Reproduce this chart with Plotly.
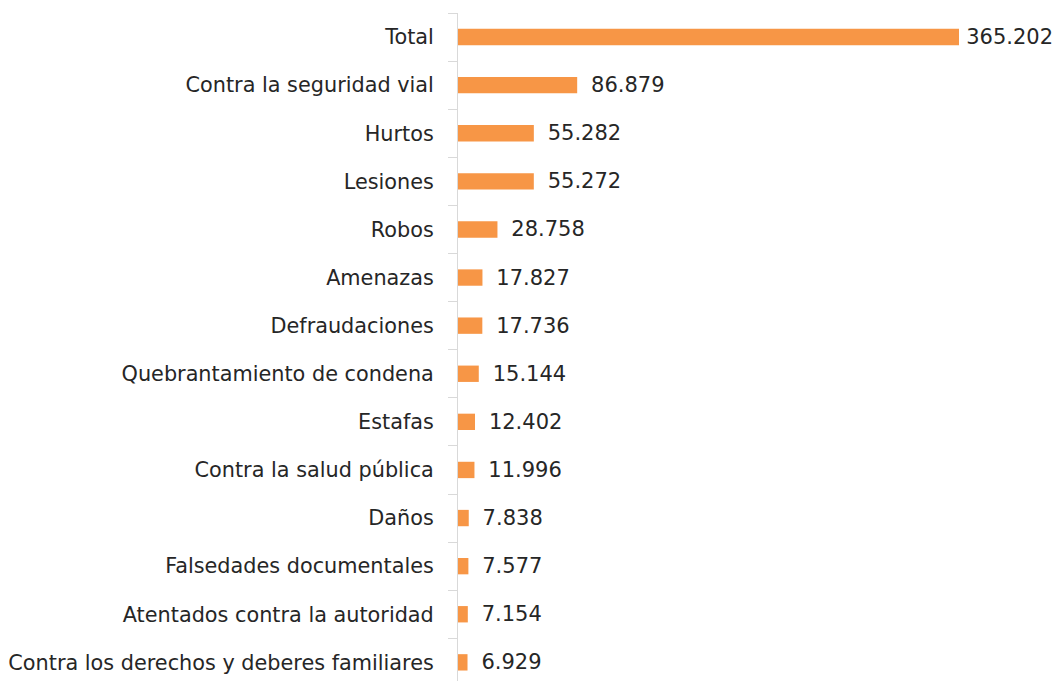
import plotly.graph_objects as go

categories = [
    "Total",
    "Contra la seguridad vial",
    "Hurtos",
    "Lesiones",
    "Robos",
    "Amenazas",
    "Defraudaciones",
    "Quebrantamiento de condena",
    "Estafas",
    "Contra la salud pública",
    "Daños",
    "Falsedades documentales",
    "Atentados contra la autoridad",
    "Contra los derechos y deberes familiares",
]
values = [365202, 86879, 55282, 55272, 28758, 17827, 17736, 15144, 12402, 11996, 7838, 7577, 7154, 6929]

# Total label sits closer to its bar (as in the reference) so it fits the page
templates = ["\u2009%{x:,}" if c == "Total" else "\u00a0\u2009%{x:,}" for c in categories]

fig = go.Figure(
    go.Bar(
        x=values,
        y=categories,
        orientation="h",
        marker=dict(color="#F79646", line=dict(width=0)),
        width=0.34,
        texttemplate=templates,
        textposition="outside",
        constraintext="none",
        textfont=dict(family="DejaVu Sans", size=21, color="#262626"),
        cliponaxis=False,
        hoverinfo="skip",
    )
)

n_visible = 668 / 48.1
fig.update_layout(
    width=1057,
    height=681,
    margin=dict(l=458, r=7, t=13, b=0),
    plot_bgcolor="white",
    paper_bgcolor="white",
    separators=",.",
    showlegend=False,
    font=dict(family="DejaVu Sans", size=20.8, color="#262626"),
)
fig.update_xaxes(
    range=[0, max(values) * 592 / 501],
    visible=False,
    showgrid=False,
    zeroline=False,
)
fig.update_yaxes(
    categoryorder="array",
    categoryarray=categories,
    range=[n_visible - 0.5, -0.5],
    showline=True,
    linecolor="#d9d9d9",
    linewidth=1,
    ticks="outside",
    tickson="boundaries",
    ticklen=9,
    tickcolor="#d9d9d9",
    ticklabelstandoff=19,
    showgrid=False,
    zeroline=False,
    tickfont=dict(family="DejaVu Sans", size=20.8, color="#262626"),
)

fig.write_html(
    "out.html",
    config={"displayModeBar": False},
    post_script="document.body.style.margin='0';document.body.style.overflow='hidden';",
)
